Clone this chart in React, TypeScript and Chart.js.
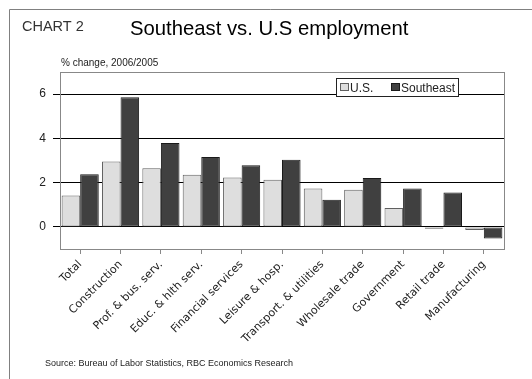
import React, { useEffect, useRef } from "react";
import { Chart, registerables } from "chart.js";

Chart.register(...registerables);

const categories = [
  "Total",
  "Construction",
  "Prof. & bus. serv.",
  "Educ. & hlth serv.",
  "Financial services",
  "Leisure & hosp.",
  "Transport. & utilities",
  "Wholesale trade",
  "Government",
  "Retail trade",
  "Manufacturing",
];
const usValues = [1.42, 2.95, 2.65, 2.36, 2.23, 2.13, 1.73, 1.68, 0.85, -0.09, -0.14];
const seValues = [2.38, 5.86, 3.79, 3.16, 2.79, 3.03, 1.23, 2.21, 1.74, 1.55, -0.53];
const yTicks = [0, 2, 4, 6];
const yMin = -1;
const yMax = 7;

const chartLabel = "CHART 2";
const titleText = "Southeast vs. U.S employment";
const unitText = "% change, 2006/2005";
const sourceText = "Source: Bureau of Labor Statistics, RBC Economics Research";
const seriesNames = ["U.S.", "Southeast"];

const FONT = "'Liberation Sans', Arial, sans-serif";
const LABEL_FONT = "'DejaVu Sans', Verdana, sans-serif";
const US_FILL = "#dedede";
const US_BORDER = "#606060";
const SE_FILL = "#404040";
const SE_BORDER = "#1a1a1a";
const FRAME = "#808080";

const decorPlugin = {
  id: "decor",
  beforeDraw(chart: any) {
    const { ctx, width, height } = chart;
    ctx.save();
    ctx.fillStyle = "#ffffff";
    ctx.fillRect(0, 0, width, height);
    ctx.restore();
  },
  afterDraw(chart: any) {
    const { ctx, chartArea } = chart;
    ctx.save();
    // outer frame (top + left)
    ctx.strokeStyle = FRAME;
    ctx.lineWidth = 1;
    ctx.beginPath();
    ctx.moveTo(9.5, 379);
    ctx.lineTo(9.5, 9.5);
    ctx.lineTo(532, 9.5);
    ctx.stroke();

    // plot area border
    ctx.strokeStyle = "#888888";
    ctx.strokeRect(
      Math.round(chartArea.left) + 0.5,
      Math.round(chartArea.top) + 0.5,
      Math.round(chartArea.right - chartArea.left),
      Math.round(chartArea.bottom - chartArea.top)
    );

    // texts
    ctx.textBaseline = "alphabetic";
    ctx.textAlign = "left";
    ctx.fillStyle = "#333333";
    ctx.font = `14.5px ${FONT}`;
    ctx.fillText(chartLabel, 22, 31);

    ctx.fillStyle = "#000000";
    ctx.font = `20.3px ${FONT}`;
    ctx.fillText(titleText, 130, 35);

    ctx.fillStyle = "#222222";
    ctx.font = `10px ${FONT}`;
    ctx.fillText(unitText, 61, 66);

    ctx.font = `9px ${FONT}`;
    ctx.fillText(sourceText, 45, 366);

    // legend
    const lx = 336.5, ly = 78.5, lw = 122, lh = 18;
    ctx.fillStyle = "#ffffff";
    ctx.fillRect(lx, ly, lw, lh);
    ctx.strokeStyle = "#222222";
    ctx.strokeRect(lx, ly, lw, lh);
    const items = [
      { name: seriesNames[0], fill: US_FILL, border: US_BORDER, x: 340 },
      { name: seriesNames[1], fill: SE_FILL, border: SE_BORDER, x: 391 },
    ];
    ctx.font = `12px ${FONT}`;
    for (const it of items) {
      ctx.fillStyle = it.fill;
      ctx.fillRect(it.x + 0.5, 83.5, 8, 7);
      ctx.strokeStyle = it.border;
      ctx.strokeRect(it.x + 0.5, 83.5, 8, 7);
      ctx.fillStyle = "#222222";
      ctx.fillText(it.name, it.x + 10, 92);
    }
    ctx.restore();
  },
};

export default function App() {
  const ref = useRef<HTMLCanvasElement | null>(null);

  useEffect(() => {
    if (!ref.current) return;
    const chart = new Chart(ref.current, {
      type: "bar",
      data: {
        labels: categories,
        datasets: [
          {
            label: seriesNames[0],
            data: usValues,
            backgroundColor: US_FILL,
            borderColor: US_BORDER,
            borderWidth: 1,
            borderSkipped: false,
          },
          {
            label: seriesNames[1],
            data: seValues,
            backgroundColor: SE_FILL,
            borderColor: SE_BORDER,
            borderWidth: 1,
            borderSkipped: false,
          },
        ],
      },
      options: {
        animation: false,
        responsive: false,
        devicePixelRatio: 1,
        layout: { padding: { top: 72, right: 28, bottom: 30, left: 0 } },
        datasets: { bar: { categoryPercentage: 0.92, barPercentage: 1.0 } },
        plugins: {
          legend: { display: false },
          title: { display: false },
          tooltip: { enabled: false },
        },
        scales: {
          x: {
            afterFit: (s: any) => {
              s.height = 100;
            },
            grid: {
              offset: false,
              drawOnChartArea: false,
              drawTicks: true,
              tickLength: 5,
              tickColor: "#888888",
            },
            border: { display: true, color: "#888888" },
            ticks: {
              autoSkip: false,
              minRotation: 45,
              maxRotation: 45,
              padding: 4,
              color: "#222222",
              font: { family: LABEL_FONT, size: 11 },
            },
          },
          y: {
            min: yMin,
            max: yMax,
            afterFit: (s: any) => {
              s.width = 60;
            },
            afterBuildTicks: (s: any) => {
              s.ticks = yTicks.map((v) => ({ value: v }));
            },
            grid: {
              color: "#000000",
              tickColor: "#000000",
              tickLength: 7,
              drawTicks: true,
            },
            border: { display: true, color: "#888888" },
            ticks: {
              padding: 7,
              color: "#222222",
              font: { family: FONT, size: 12 },
            },
          },
        },
      },
      plugins: [decorPlugin],
    });
    return () => chart.destroy();
  }, []);

  return (
    <div style={{ position: "absolute", left: 0, top: 0, width: 532, height: 379 }}>
      <canvas ref={ref} width={532} height={379} style={{ display: "block", width: 532, height: 379 }} />
    </div>
  );
}
